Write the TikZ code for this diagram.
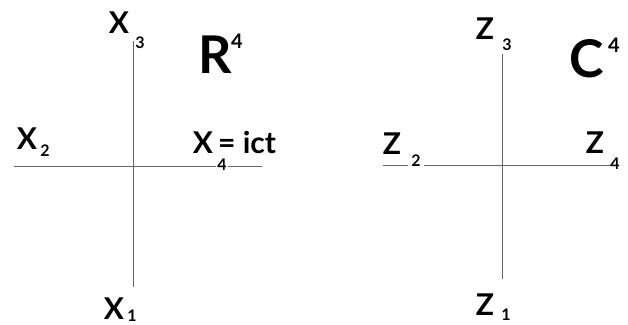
\documentclass[tikz,border=0pt]{standalone}
\usepackage{fontspec}
\setmainfont{Lato}
\usetikzlibrary{calc}

\begin{document}
\begin{tikzpicture}[
    x=1pt,
    y=-1pt,
    axis/.style={black!60, line width=0.9pt},
    letter/.style={font=\fontsize{30}{32}\selectfont\bfseries, inner sep=0pt},
    index/.style={font=\fontsize{16}{17}\selectfont\bfseries, inner sep=0pt},
    space/.style={font=\fontsize{52}{54}\selectfont\bfseries, inner sep=0pt},
    power/.style={font=\fontsize{20}{21}\selectfont\bfseries, inner sep=0pt}
]

% -------------------------------------------------------------------------
% Bounding box
% -------------------------------------------------------------------------
\useasboundingbox (0,0) rectangle (628,324);

% -------------------------------------------------------------------------
% Axes: real space
% -------------------------------------------------------------------------
\coordinate (x-left)   at ( 14,166);
\coordinate (x-right)  at (262,166);
\coordinate (x-top)    at (133, 41);
\coordinate (x-bottom) at (133,287);

\draw[ axis ] (x-left) -- (x-right);
\draw[ axis ] (x-top) -- (x-bottom);

% -------------------------------------------------------------------------
% Axes: complex space
% -------------------------------------------------------------------------
\coordinate (z-left)   at (383,165);
\coordinate (z-right)  at (612,165);
\coordinate (z-top)    at (502, 54);
\coordinate (z-bottom) at (502,279);

\draw[ axis ] (z-left) -- (z-right);
\draw[ axis ] (z-top) -- (z-bottom);

% -------------------------------------------------------------------------
% Labels: real space
% -------------------------------------------------------------------------
\node[ letter ] (x3) at (119, 22.5) {X};
\node[ index ] (x3-sub) at (140, 43) {3};

\node[ letter ] (x2) at (27, 139) {X};
\node[ index ] (x2-sub) at (45, 151) {2};

\node[ letter ] (x4) at (203, 143) {X};
\node[ letter, anchor=base west ] (x4-rest) at (218, 153.5) {= ict};
\node[ index, fill=white, inner xsep=1pt ] (x4-sub) at (222, 165) {4};

\node[ letter ] (x1) at (114, 308.5) {X};
\node[ index ] (x1-sub) at (132, 316) {1};

\node[ space ] (r-space) at (215, 55) {R};
\node[ power ] (r-power) at (237, 41) {4};

% -------------------------------------------------------------------------
% Labels: complex space
% -------------------------------------------------------------------------
\node[ letter ] (z3) at (485, 29) {Z};
\node[ index ] (z3-sub) at (507, 45) {3};

\node[ letter ] (z2) at (392, 144) {Z};
\node[ index, fill=white, inner xsep=3pt ] (z2-sub) at (416, 161) {2};

\node[ letter ] (z4) at (595, 143) {Z};
\node[ index ] (z4-sub) at (615, 164) {4};

\node[ letter ] (z1) at (485, 304.5) {Z};
\node[ index ] (z1-sub) at (506, 315) {1};

\node[ space ] (c-space) at (587, 59) {C};
\node[ power ] (c-power) at (614, 45) {4};

\end{tikzpicture}
\end{document}
